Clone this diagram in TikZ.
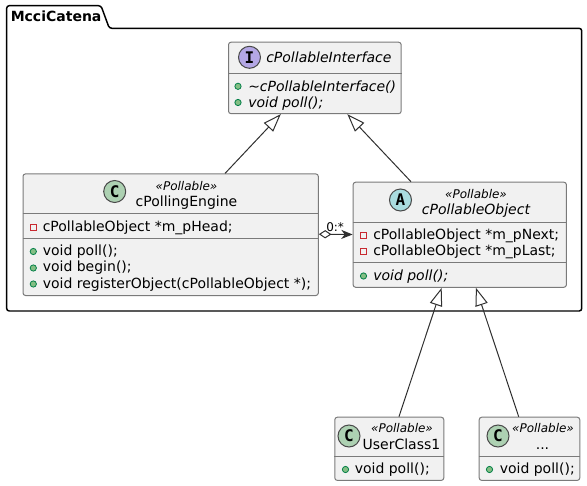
\documentclass[tikz,border=0pt]{standalone}
\usepackage{fontspec}
\setmainfont{DejaVu Sans}
\setmonofont{DejaVu Sans Mono}
\usetikzlibrary{arrows.meta}
\definecolor{boxfill}{HTML}{F1F1F1}
\definecolor{boxline}{HTML}{7A7A7A}
\definecolor{edgeline}{HTML}{303030}
\definecolor{pubfill}{HTML}{84BE84}
\definecolor{publine}{HTML}{038048}
\definecolor{privline}{HTML}{C82930}
\definecolor{cfill}{HTML}{ADD1B2}
\definecolor{ifill}{HTML}{B4A7E5}
\definecolor{afill}{HTML}{A9DCDF}
\tikzset{
  x=0.75pt,y=-0.75pt,
  umlbox/.style={draw=boxline,fill=boxfill,line width=0.75pt,rounded corners=1.9pt,inner sep=0pt,anchor=north west},
  divider/.style={draw=boxline,line width=0.75pt},
  member/.style={font=\fontsize{10.5pt}{12pt}\selectfont,anchor=base west,inner sep=0pt},
  imember/.style={member,font=\fontsize{10.5pt}{12pt}\selectfont\itshape},
  title/.style={font=\fontsize{10.5pt}{12pt}\selectfont,anchor=base,inner sep=0pt},
  ititle/.style={title,font=\fontsize{10.5pt}{12pt}\selectfont\itshape},
  stereo/.style={font=\fontsize{9pt}{10pt}\selectfont\itshape,anchor=base,inner sep=0pt},
  badge/.style={circle,draw=boxline!60!black,line width=0.75pt,minimum size=16.5pt,inner sep=0pt,font=\fontsize{12pt}{12pt}\selectfont\bfseries\ttfamily},
  pub/.style={circle,draw=publine,fill=pubfill,line width=0.6pt,minimum size=4.7pt,inner sep=0pt},
  priv/.style={rectangle,draw=privline,line width=0.75pt,minimum size=4.5pt,inner sep=0pt},
  inherit/.style={draw=edgeline,line width=0.75pt,-{Triangle[open,fill=white,length=13.5pt,width=9.5pt]}},
  assoc/.style={draw=edgeline,line width=0.75pt,{Diamond[open,fill=white,length=9.5pt,width=6.2pt]}-{Stealth[length=8.5pt,width=6.8pt,inset=2.6pt]}},
}
\begin{document}
\begin{tikzpicture}
\useasboundingbox (0,0) rectangle (587,486);
% package
\draw[line width=1.1pt,black,rounded corners=1.9pt]
  (6.7,28.3) -- (6.7,5.7) -- (101,5.7) -- (109.3,28.3) -- (581.7,28.3) -- (581.7,311) -- (6.7,311) -- cycle;
\node[font=\fontsize{10.5pt}{12pt}\selectfont\bfseries,anchor=base west,inner sep=0pt] (pkg) at (10.5,21) {McciCatena};
% interface
\node[umlbox,minimum width=129.5pt,minimum height=53.6pt] (iface) at (228,41.7) {};
\draw[divider] (iface.west|-0,73.3) -- (iface.east|-0,73.3);
\node[badge,fill=ifill] (ifaceb) at (249.5,57.3) {I};
\node[ititle,anchor=base west] (ifacet) at (266,62.5) {cPollableInterface};
\node[pub] (if1) at (238,86.3) {};
\node[imember] (if1t) at (248,91) {\textasciitilde cPollableInterface()};
\node[pub] (if2) at (238,102.5) {};
\node[imember] (if2t) at (248,107) {void poll();};
% engine
\node[umlbox,minimum width=221.5pt,minimum height=91.2pt] (engine) at (22.5,173.4) {};
\draw[divider] (engine.west|-0,213.3) -- (engine.east|-0,213.3);
\draw[divider] (engine.west|-0,238.3) -- (engine.east|-0,238.3);
\node[badge,fill=cfill] (engineb) at (114.7,191.5) {C};
\node[stereo] (engines) at (186.5,190) {«Pollable»};
\node[title] (enginet) at (186.5,206) {cPollingEngine};
\node[priv] (en1) at (33.3,227) {};
\node[member] (en1t) at (42.5,231) {cPollableObject *m\_pHead;};
\node[pub] (en2) at (33.3,251.5) {};
\node[member] (en2t) at (42.5,255.5) {void poll();};
\node[pub] (en3) at (33.3,268) {};
\node[member] (en3t) at (42.5,271.5) {void begin();};
\node[pub] (en4) at (33.3,284) {};
\node[member] (en4t) at (42.5,288) {void registerObject(cPollableObject *);};
% object
\node[umlbox,minimum width=160pt,minimum height=78.8pt] (object) at (352.6,181.7) {};
\draw[divider] (object.west|-0,222.3) -- (object.east|-0,222.3);
\draw[divider] (object.west|-0,262.3) -- (object.east|-0,262.3);
\node[badge,fill=afill] (objectb) at (400.5,200) {A};
\node[stereo] (objects) at (476,198) {«Pollable»};
\node[ititle] (objectt) at (476,214.5) {cPollableObject};
\node[priv] (ob1) at (363.5,235.5) {};
\node[member] (ob1t) at (373,239.5) {cPollableObject *m\_pNext;};
\node[priv] (ob2) at (363.5,251.5) {};
\node[member] (ob2t) at (373,255.5) {cPollableObject *m\_pLast;};
\node[pub] (ob3) at (363.5,276) {};
\node[imember] (ob3t) at (373,280) {void poll();};
% user class
\node[umlbox,minimum width=81.75pt,minimum height=47.4pt] (user) at (334.3,416.7) {};
\draw[divider] (user.west|-0,456) -- (user.east|-0,456);
\node[badge,fill=cfill] (userb) at (349,436) {C};
\node[stereo] (users) at (402,432) {«Pollable»};
\node[title] (usert) at (401.5,449) {UserClass1};
\node[pub] (us1) at (345.5,469.5) {};
\node[member] (us1t) at (354.5,473.5) {void poll();};
% dots class
\node[umlbox,minimum width=75.45pt,minimum height=47.4pt] (dots) at (478.7,416.7) {};
\draw[divider] (dots.west|-0,456) -- (dots.east|-0,456);
\node[badge,fill=cfill] (dotsb) at (498,436) {C};
\node[stereo] (dotss) at (543,432) {«Pollable»};
\node[title] (dotst) at (542.5,449) {...};
\node[pub] (do1) at (489.5,469.5) {};
\node[member] (do1t) at (499.5,473.5) {void poll();};
% connectors
\coordinate (eTop) at ([xshift=151.9pt]engine.north west);
\coordinate (iA) at ([xshift=39.6pt]iface.south west);
\coordinate (iB) at ([xshift=89.5pt]iface.south west);
\coordinate (oTop) at ([xshift=43.8pt]object.north west);
\coordinate (oA) at ([xshift=66.8pt]object.south west);
\coordinate (oB) at ([xshift=92.5pt]object.south west);
\coordinate (uTop) at ([xshift=48.5pt]user.north west);
\coordinate (dTop) at ([xshift=30pt]dots.north west);
\coordinate (eR) at ([yshift=-45.6pt]engine.north east);
\coordinate (oL) at ([yshift=-39.6pt]object.north west);
\draw[inherit] (eTop) -- (iA);
\draw[inherit] (oTop) -- (iB);
\draw[inherit] (uTop) -- (oA);
\draw[inherit] (dTop) -- (oB);
\draw[assoc] (eR) -- (oL);
\node[font=\fontsize{9pt}{10pt}\selectfont,anchor=base west,inner sep=0pt] (mult) at (326,231) {0:*};
\end{tikzpicture}
\end{document}
